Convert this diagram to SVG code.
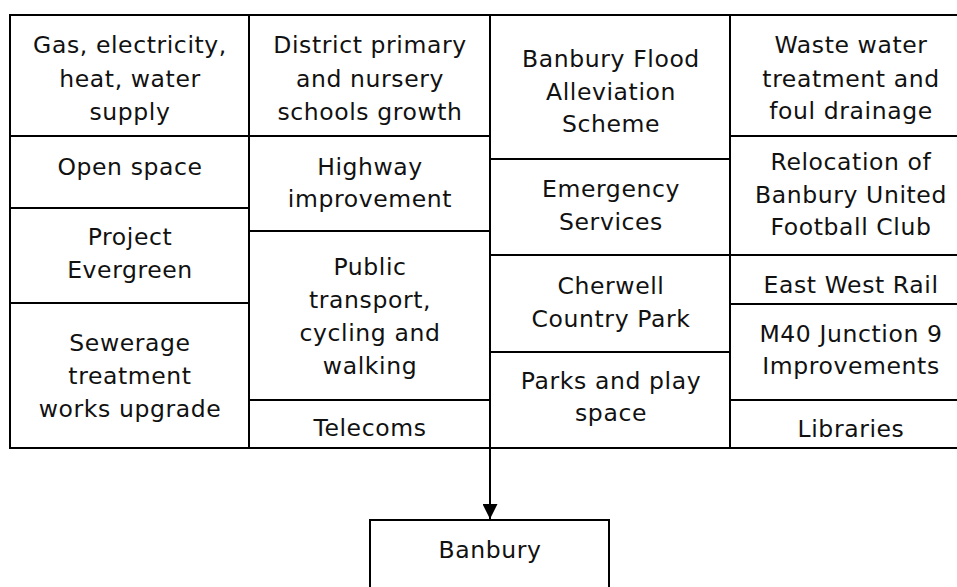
<svg xmlns="http://www.w3.org/2000/svg" width="957" height="587" viewBox="0 0 957 587">
  <style>
    .cell { fill: #fff; stroke: #000; stroke-width: 2; }
    .lbl { font-family: "DejaVu Sans", "Liberation Sans", sans-serif; font-size: 23.5px; letter-spacing: 0.6px; fill: #111; text-anchor: middle; }
    .edge { stroke: #000; stroke-width: 2; fill: none; }
  </style>
  <defs>
    <marker id="arrow" viewBox="0 0 10 10" refX="10" refY="5" markerWidth="15" markerHeight="15" markerUnits="userSpaceOnUse" orient="auto">
      <path d="M0,0 L10,5 L0,10 Z" fill="#000"/>
    </marker>
  </defs>
  <rect width="957" height="587" fill="#fff"/>

  <!-- Column 1 -->
  <g id="gas-electricity-heat-water">
    <rect class="cell" x="10" y="15" width="239" height="121"/>
    <text class="lbl" x="130" y="53">Gas, electricity,</text>
    <text class="lbl" x="130" y="87">heat, water</text>
    <text class="lbl" x="130" y="120">supply</text>
  </g>
  <g id="open-space">
    <rect class="cell" x="10" y="136" width="239" height="72"/>
    <text class="lbl" x="130" y="175">Open space</text>
  </g>
  <g id="project-evergreen">
    <rect class="cell" x="10" y="208" width="239" height="95"/>
    <text class="lbl" x="130" y="245">Project</text>
    <text class="lbl" x="130" y="278">Evergreen</text>
  </g>
  <g id="sewerage-treatment">
    <rect class="cell" x="10" y="303" width="239" height="145"/>
    <text class="lbl" x="130" y="351">Sewerage</text>
    <text class="lbl" x="130" y="384">treatment</text>
    <text class="lbl" x="130" y="417">works upgrade</text>
  </g>

  <!-- Column 2 -->
  <g id="district-schools">
    <rect class="cell" x="249" y="15" width="241" height="121"/>
    <text class="lbl" x="370" y="53">District primary</text>
    <text class="lbl" x="370" y="87">and nursery</text>
    <text class="lbl" x="370" y="120">schools growth</text>
  </g>
  <g id="highway-improvement">
    <rect class="cell" x="249" y="136" width="241" height="95"/>
    <text class="lbl" x="370" y="175">Highway</text>
    <text class="lbl" x="370" y="207">improvement</text>
  </g>
  <g id="public-transport">
    <rect class="cell" x="249" y="231" width="241" height="169"/>
    <text class="lbl" x="370" y="275">Public</text>
    <text class="lbl" x="370" y="308">transport,</text>
    <text class="lbl" x="370" y="341">cycling and</text>
    <text class="lbl" x="370" y="374">walking</text>
  </g>
  <g id="telecoms">
    <rect class="cell" x="249" y="400" width="241" height="48"/>
    <text class="lbl" x="370" y="436">Telecoms</text>
  </g>

  <!-- Column 3 -->
  <g id="flood-alleviation">
    <rect class="cell" x="490" y="15" width="240" height="144"/>
    <text class="lbl" x="611" y="67">Banbury Flood</text>
    <text class="lbl" x="611" y="100">Alleviation</text>
    <text class="lbl" x="611" y="132">Scheme</text>
  </g>
  <g id="emergency-services">
    <rect class="cell" x="490" y="159" width="240" height="96"/>
    <text class="lbl" x="611" y="197">Emergency</text>
    <text class="lbl" x="611" y="230">Services</text>
  </g>
  <g id="cherwell-country-park">
    <rect class="cell" x="490" y="255" width="240" height="97"/>
    <text class="lbl" x="611" y="294">Cherwell</text>
    <text class="lbl" x="611" y="327">Country Park</text>
  </g>
  <g id="parks-play-space">
    <rect class="cell" x="490" y="352" width="240" height="96"/>
    <text class="lbl" x="611" y="389">Parks and play</text>
    <text class="lbl" x="611" y="421">space</text>
  </g>

  <!-- Column 4 -->
  <g id="waste-water">
    <rect class="cell" x="730" y="15" width="240" height="121"/>
    <text class="lbl" x="851" y="53">Waste water</text>
    <text class="lbl" x="851" y="87">treatment and</text>
    <text class="lbl" x="851" y="119">foul drainage</text>
  </g>
  <g id="football-club-relocation">
    <rect class="cell" x="730" y="136" width="240" height="119"/>
    <text class="lbl" x="851" y="170">Relocation of</text>
    <text class="lbl" x="851" y="203">Banbury United</text>
    <text class="lbl" x="851" y="235">Football Club</text>
  </g>
  <g id="east-west-rail">
    <rect class="cell" x="730" y="255" width="240" height="49"/>
    <text class="lbl" x="851" y="293">East West Rail</text>
  </g>
  <g id="m40-junction-9">
    <rect class="cell" x="730" y="304" width="240" height="96"/>
    <text class="lbl" x="851" y="342">M40 Junction 9</text>
    <text class="lbl" x="851" y="374">Improvements</text>
  </g>
  <g id="libraries">
    <rect class="cell" x="730" y="400" width="240" height="48"/>
    <text class="lbl" x="851" y="437">Libraries</text>
  </g>

  <!-- Target -->
  <g id="banbury">
    <rect class="cell" x="370" y="520" width="239" height="80"/>
    <text class="lbl" x="490" y="558">Banbury</text>
  </g>

  <!-- Connectors -->
  <g id="connectors">
    <line class="edge" x1="490" y1="448" x2="490" y2="519" marker-end="url(#arrow)"/>
  </g>
</svg>
